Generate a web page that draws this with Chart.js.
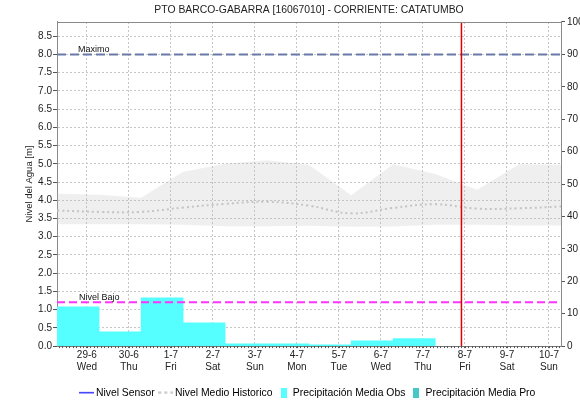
<!DOCTYPE html>
<html>
<head>
<meta charset="utf-8">
<script src="https://cdn.jsdelivr.net/npm/chart.js@4.4.1/dist/chart.umd.min.js"></script>
<style>
  html, body { margin: 0; padding: 0; background: #fff; }
  #wrap { width: 580px; height: 403px; position: relative; }
</style>
</head>
<body>
<div id="wrap"><canvas id="chart"></canvas></div>
<script>
// ---- data -------------------------------------------------------------
const titleText = 'PTO BARCO-GABARRA [16067010] - CORRIENTE: CATATUMBO';

// Day ticks on the time axis (day index 0 = 29-6)
const dayDates = ['29-6', '30-6', '1-7', '2-7', '3-7', '4-7', '5-7', '6-7', '7-7', '8-7', '9-7', '10-7'];
const dayNames = ['Wed', 'Thu', 'Fri', 'Sat', 'Sun', 'Mon', 'Tue', 'Wed', 'Thu', 'Fri', 'Sat', 'Sun'];

// Observed daily precipitation [mm], 24 h ending 07:00 of each labelled day (29-6 .. 7-7)
const precipObs = [12.1, 4.4, 14.9, 7.2, 0.7, 0.7, 0.4, 1.6, 2.3];
// Forecast precipitation [mm] (none in this window)
const precipPro = [];
// Sensor level [m] (no readings in this window)
const sensorLevel = [];

// Historic level statistics [m], sampled at 07:00 from 28-6 to 10-7
const histMax  = [4.18, 4.15, 4.07, 4.78, 5.00, 5.10, 4.97, 4.14, 4.99, 4.72, 4.29, 4.99, 4.97];
const histMin  = [3.34, 3.34, 3.34, 3.33, 3.29, 3.29, 3.30, 3.27, 3.28, 3.33, 3.33, 3.31, 3.31];
const histMean = [3.72, 3.68, 3.68, 3.80, 3.90, 3.96, 3.85, 3.64, 3.79, 3.89, 3.77, 3.78, 3.83];

// Reference levels [m]
const nivelMaximo = 8.0;
const nivelBajo = 1.2;
const refLabels = ['Maximo', 'Nivel Bajo'];

// Current time (7-7, 22:00) in day units
const nowDay = 8 + 22 / 24;

const legendNames = ['Nivel Sensor', 'Nivel Medio Historico', 'Precipitación Media Obs', 'Precipitación Media Pro'];

// ---- axis ranges ------------------------------------------------------
const dayStartHour = 7 / 24;          // hydrological day starts at 07:00
const xMin = -0.71, xMax = 11.286;    // 28-6 07:00 .. 10-7 07:00
const rightMax = 100;
const leftMax = nivelMaximo * rightMax / 90;   // 8.0 m sits on the 90 mm line

const histPoints = arr => arr.map((v, i) => ({ x: i - 1 + dayStartHour, y: v }));
const barPoints = arr => arr.map((v, i) => ({ x: i - 0.5 + dayStartHour, y: v }));

// ---- legend icons -----------------------------------------------------
function lineIcon(color, width, dash) {
  const c = document.createElement('canvas');
  c.width = 15; c.height = 3;
  const g = c.getContext('2d');
  g.strokeStyle = color; g.lineWidth = width; g.setLineDash(dash);
  g.beginPath(); g.moveTo(0, 1.5); g.lineTo(15, 1.5); g.stroke();
  return c;
}
function boxIcon(color) {
  const c = document.createElement('canvas');
  c.width = 6; c.height = 10;
  const g = c.getContext('2d');
  g.fillStyle = color; g.fillRect(0, 0, 6, 10);
  return c;
}

const colSensor = '#0000ff', colMean = '#c4c4c4', colObs = '#55ffff', colPro = '#46c8c8';
const legendIcons = [lineIcon(colSensor, 1.2, []), lineIcon(colMean, 2, [3, 3]), boxIcon(colObs), boxIcon(colPro)];

// ---- decorations: top frame, 2-hourly minor ticks, level captions ------
const decor = {
  id: 'decor',
  afterDatasetsDraw(chart) {
    const { ctx, chartArea: a, scales } = chart;
    ctx.save();
    ctx.strokeStyle = '#8a8a8a';
    ctx.lineWidth = 1;
    ctx.beginPath();
    ctx.moveTo(a.left, Math.round(a.top) + 0.5);
    ctx.lineTo(a.right, Math.round(a.top) + 0.5);
    ctx.stroke();

    ctx.strokeStyle = '#555';
    ctx.beginPath();
    for (let k = Math.ceil(xMin * 12); k <= Math.floor(xMax * 12); k++) {
      const px = Math.round(scales.x.getPixelForValue(k / 12)) + 0.5;
      ctx.moveTo(px, a.bottom);
      ctx.lineTo(px, a.bottom + 2);
    }
    ctx.stroke();

    ctx.fillStyle = '#111';
    ctx.font = '9px "Liberation Sans", Arial, sans-serif';
    ctx.textBaseline = 'alphabetic';
    ctx.fillText(refLabels[0], a.left + 21, scales.y.getPixelForValue(nivelMaximo) - 2);
    ctx.fillText(refLabels[1], a.left + 22, scales.y.getPixelForValue(nivelBajo) - 2);
    ctx.restore();
  }
};

// ---- chart ------------------------------------------------------------
Chart.defaults.font.family = '"Liberation Sans", Arial, sans-serif';
Chart.defaults.color = '#222';

const flat = { pointRadius: 0, pointHoverRadius: 0 };

new Chart(document.getElementById('chart'), {
  type: 'line',
  data: {
    datasets: [
      { label: 'now', data: [{ x: nowDay, y: 0 }, { x: nowDay, y: leftMax }], borderColor: '#e00000', borderWidth: 1.5, yAxisID: 'y', ...flat },
      { label: refLabels[0], data: [{ x: xMin, y: nivelMaximo }, { x: xMax, y: nivelMaximo }], borderColor: '#6a7aa8', borderWidth: 2, borderDash: [9, 4], yAxisID: 'y', ...flat },
      { label: refLabels[1], data: [{ x: xMin, y: nivelBajo }, { x: xMax, y: nivelBajo }], borderColor: '#ff33ff', borderWidth: 2, borderDash: [8, 4], yAxisID: 'y', ...flat },
      { label: legendNames[0], data: sensorLevel, borderColor: colSensor, borderWidth: 1.5, yAxisID: 'y', ...flat },
      { label: legendNames[1], data: histPoints(histMean), borderColor: colMean, borderWidth: 2, borderDash: [2, 3], tension: 0.4, yAxisID: 'y', ...flat },
      { label: 'histMax', data: histPoints(histMax), borderWidth: 0, borderColor: 'rgba(0,0,0,0)', fill: '+1', backgroundColor: 'rgba(190,190,190,0.24)', yAxisID: 'y', ...flat },
      { label: 'histMin', data: histPoints(histMin), borderWidth: 0, borderColor: 'rgba(0,0,0,0)', yAxisID: 'y', ...flat },
      { type: 'bar', label: legendNames[2], data: barPoints(precipObs), backgroundColor: colObs, borderWidth: 0, yAxisID: 'y2', grouped: false, barPercentage: 1, categoryPercentage: 1 },
      { type: 'bar', label: legendNames[3], data: barPoints(precipPro), backgroundColor: colPro, borderWidth: 0, yAxisID: 'y2', grouped: false, barPercentage: 1, categoryPercentage: 1 }
    ]
  },
  options: {
    responsive: true,
    maintainAspectRatio: false,
    animation: false,
    events: [],
    layout: { padding: { left: 0, right: 0, top: 0, bottom: -5 } },
    plugins: {
      tooltip: { enabled: false },
      title: {
        display: true, text: titleText, fullSize: false,
        font: { size: 10.4, weight: 'normal' }, color: '#222',
        padding: { top: 4, bottom: 5.5 }
      },
      legend: {
        position: 'bottom', fullSize: false,
        labels: {
          usePointStyle: true, pointStyleWidth: 8, padding: 7,
          font: { size: 10.4 }, color: '#222',
          generateLabels: () => legendNames.map((name, i) => ({
            text: name, pointStyle: legendIcons[i], fillStyle: 'rgba(0,0,0,0)',
            strokeStyle: 'rgba(0,0,0,0)', lineWidth: 0, hidden: false, datasetIndex: 3 + i
          }))
        }
      }
    },
    scales: {
      x: {
        type: 'linear', min: xMin, max: xMax, offset: false,
        afterFit: s => { s.height = 34.5; },
        ticks: {
          stepSize: 1, includeBounds: false, autoSkip: false, maxRotation: 0, padding: 1,
          font: { size: 10 }, color: '#222',
          callback: v => { const i = Math.round(v); return [dayDates[i], dayNames[i]]; }
        },
        grid: { color: '#c6c6c6', offset: false, tickLength: 2, tickColor: '#555' },
        border: { color: '#777', dash: [2, 2] }
      },
      y: {
        type: 'linear', position: 'left', min: 0, max: leftMax,
        afterFit: s => { s.width = 57; },
        ticks: {
          stepSize: 0.5, includeBounds: false, padding: 1,
          font: { size: 10 }, color: '#222',
          callback: v => v.toFixed(1)
        },
        grid: { color: '#c6c6c6', tickLength: 4, tickColor: '#555' },
        border: { color: '#8a8a8a', dash: [2, 2] },
        title: {
          display: true, text: 'Nivel del Agua [m]', color: '#222',
          font: { size: 9.5 }, padding: { top: 23.3, bottom: 0 }
        }
      },
      y2: {
        type: 'linear', position: 'right', min: 0, max: rightMax,
        afterFit: s => { s.width = 19; },
        ticks: { stepSize: 10, padding: 2, font: { size: 10 }, color: '#222' },
        grid: { drawOnChartArea: false, tickLength: 4, tickColor: '#555' },
        border: { color: '#8a8a8a' }
      }
    }
  },
  plugins: [decor]
});
</script>
</body>
</html>
